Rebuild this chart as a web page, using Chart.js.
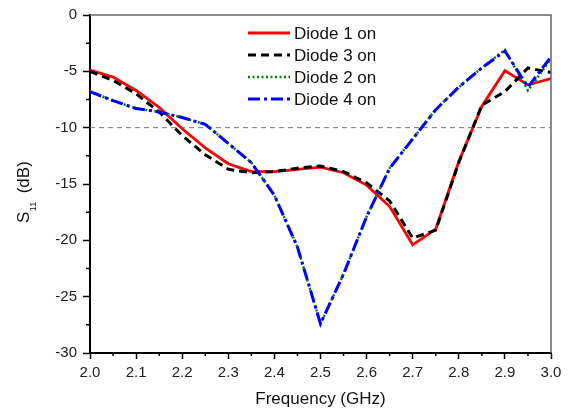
<!DOCTYPE html>
<html lang="en">

<head>
    <meta charset="UTF-8">
    <script src="https://cdn.jsdelivr.net/npm/chart.js"></script>
    <title>S11 diodes</title>
    <style>
        body { margin: 0; background: #fff; }
        .box { width: 569px; height: 410px; }
    </style>
</head>

<body>
    <div class="box">
        <canvas id="grafico"></canvas>
    </div>
</body>

</html>
<script>
    // frequencias (GHz)
    const freqs = [2.0, 2.05, 2.1, 2.15, 2.2, 2.25, 2.3, 2.35, 2.4, 2.45, 2.5,
        2.55, 2.6, 2.65, 2.7, 2.75, 2.8, 2.85, 2.9, 2.95, 3.0];

    // S11 (dB) de cada caso
    const diodo1 = [-4.9, -5.5, -6.7, -8.2, -10.1, -11.8, -13.2, -13.9, -13.9, -13.7, -13.5,
        -14.0, -15.1, -17.0, -20.4, -19.0, -13.0, -8.1, -4.95, -6.2, -5.65];
    const diodo3 = [-5.0, -5.8, -7.0, -8.6, -10.7, -12.4, -13.7, -14.0, -13.9, -13.6, -13.4,
        -13.9, -14.9, -16.5, -19.8, -19.1, -13.1, -8.0, -6.8, -4.7, -5.1];
    const diodo2 = [-6.8, -7.6, -8.3, -8.6, -9.1, -9.7, -11.4, -13.1, -16.0, -20.6, -27.4,
        -23.0, -17.9, -13.6, -11.0, -8.4, -6.4, -4.7, -3.1, -6.7, -3.9];
    const diodo4 = [-6.8, -7.6, -8.3, -8.6, -9.1, -9.7, -11.4, -13.1, -16.0, -20.6, -27.4,
        -23.0, -17.9, -13.6, -11.0, -8.4, -6.4, -4.7, -3.2, -6.4, -3.7];

    // linha de referencia -10 dB
    const limiteX = [2.0, 3.0];
    const limiteY = [-10, -10];

    const nomes = ['Diode 1 on', 'Diode 3 on', 'Diode 2 on', 'Diode 4 on'];

    const fonte = 'Arial, "Liberation Sans", sans-serif';

    function pontos(xs, ys) {
        return xs.map((x, i) => ({ x: x, y: ys[i] }));
    }

    // legenda, eixos secundarios e titulos
    const extras = {
        id: 'extras',
        afterDraw(chart) {
            const ctx = chart.ctx;
            const area = chart.chartArea;
            const sx = chart.scales.x;
            const sy = chart.scales.y;
            ctx.save();

            // moldura de cima e da direita
            ctx.strokeStyle = '#666';
            ctx.lineWidth = 1.5;
            ctx.beginPath();
            ctx.moveTo(area.left, area.top);
            ctx.lineTo(area.right, area.top);
            ctx.lineTo(area.right, area.bottom);
            ctx.stroke();

            // ticks menores
            ctx.strokeStyle = '#000';
            ctx.lineWidth = 1.5;
            ctx.beginPath();
            for (let f = 2.05; f < 3; f += 0.1) {
                const px = sx.getPixelForValue(f);
                ctx.moveTo(px, area.bottom);
                ctx.lineTo(px, area.bottom + 3);
            }
            for (let v = -2.5; v > -30; v -= 5) {
                const py = sy.getPixelForValue(v);
                ctx.moveTo(area.left, py);
                ctx.lineTo(area.left - 4, py);
            }
            ctx.stroke();

            // legenda
            ctx.font = '17px ' + fonte;
            ctx.textBaseline = 'middle';
            ctx.fillStyle = '#111';
            for (let i = 0; i < 4; i++) {
                const ds = chart.data.datasets[i];
                const y = 33 + i * 22;
                ctx.strokeStyle = ds.borderColor;
                ctx.lineWidth = ds.borderWidth;
                ctx.setLineDash(ds.borderDash || []);
                ctx.beginPath();
                ctx.moveTo(248, y);
                ctx.lineTo(290, y);
                ctx.stroke();
                ctx.setLineDash([]);
                ctx.fillText(ds.label, 294, y + 1);
            }

            // titulo eixo x
            ctx.textAlign = 'center';
            ctx.textBaseline = 'alphabetic';
            ctx.fillText('Frequency (GHz)', (area.left + area.right) / 2, 404);

            // titulo eixo y com subscrito
            ctx.translate(29, 223);
            ctx.rotate(-Math.PI / 2);
            ctx.textAlign = 'left';
            ctx.font = '17px ' + fonte;
            ctx.fillText('S', 0, 0);
            let w = ctx.measureText('S').width;
            ctx.font = '9px ' + fonte;
            ctx.fillText('11', w + 0.5, 7);
            w += ctx.measureText('11').width + 9;
            ctx.font = '17px ' + fonte;
            ctx.fillText('(dB)', w, 0);
            ctx.restore();
        }
    };

    const config = {
        type: 'line',
        data: {
            datasets: [{
                label: nomes[0],
                data: pontos(freqs, diodo1),
                borderColor: 'rgb(255, 0, 0)',
                borderWidth: 2.8,
                order: 3
            },
            {
                label: nomes[1],
                data: pontos(freqs, diodo3),
                borderColor: 'rgb(0, 0, 0)',
                borderWidth: 3,
                borderDash: [8, 5],
                order: 2
            },
            {
                label: nomes[2],
                data: pontos(freqs, diodo2),
                borderColor: 'rgb(0, 128, 0)',
                borderWidth: 2.5,
                borderDash: [2, 2.5],
                order: 1
            },
            {
                label: nomes[3],
                data: pontos(freqs, diodo4),
                borderColor: 'rgb(0, 0, 255)',
                borderWidth: 3,
                borderDash: [12, 4, 3, 4],
                order: 0
            },
            {
                label: 'limite',
                data: pontos(limiteX, limiteY),
                borderColor: '#777',
                borderWidth: 1,
                borderDash: [5, 4],
                order: 4
            }]
        },
        options: {
            responsive: true,
            maintainAspectRatio: false,
            animation: false,
            layout: { padding: { top: 9, right: 18, left: 0, bottom: 0 } },
            elements: {
                point: { radius: 0 },
                line: { tension: 0, fill: false, borderCapStyle: 'butt' }
            },
            plugins: {
                legend: { display: false },
                tooltip: { enabled: false }
            },
            scales: {
                x: {
                    type: 'linear',
                    min: 2,
                    max: 3,
                    afterFit(scale) { scale.height = 57; },
                    ticks: {
                        stepSize: 0.1,
                        color: '#222',
                        padding: 5,
                        maxRotation: 0,
                        font: { size: 15, family: fonte },
                        callback: v => v.toFixed(1)
                    },
                    grid: {
                        drawOnChartArea: false,
                        drawTicks: true,
                        tickLength: 6,
                        tickColor: '#000',
                        tickWidth: 1.5
                    },
                    border: { display: true, color: '#000', width: 2 }
                },
                y: {
                    min: -30,
                    max: 0,
                    afterFit(scale) { scale.width = 90; },
                    ticks: {
                        stepSize: 5,
                        color: '#222',
                        padding: 6,
                        font: { size: 15, family: fonte },
                        callback: v => String(v)
                    },
                    grid: {
                        drawOnChartArea: false,
                        drawTicks: true,
                        tickLength: 7,
                        tickColor: '#000',
                        tickWidth: 1.5
                    },
                    border: { display: true, color: '#000', width: 2 }
                }
            }
        },
        plugins: [extras]
    };

    new Chart(document.getElementById('grafico'), config);
</script>
